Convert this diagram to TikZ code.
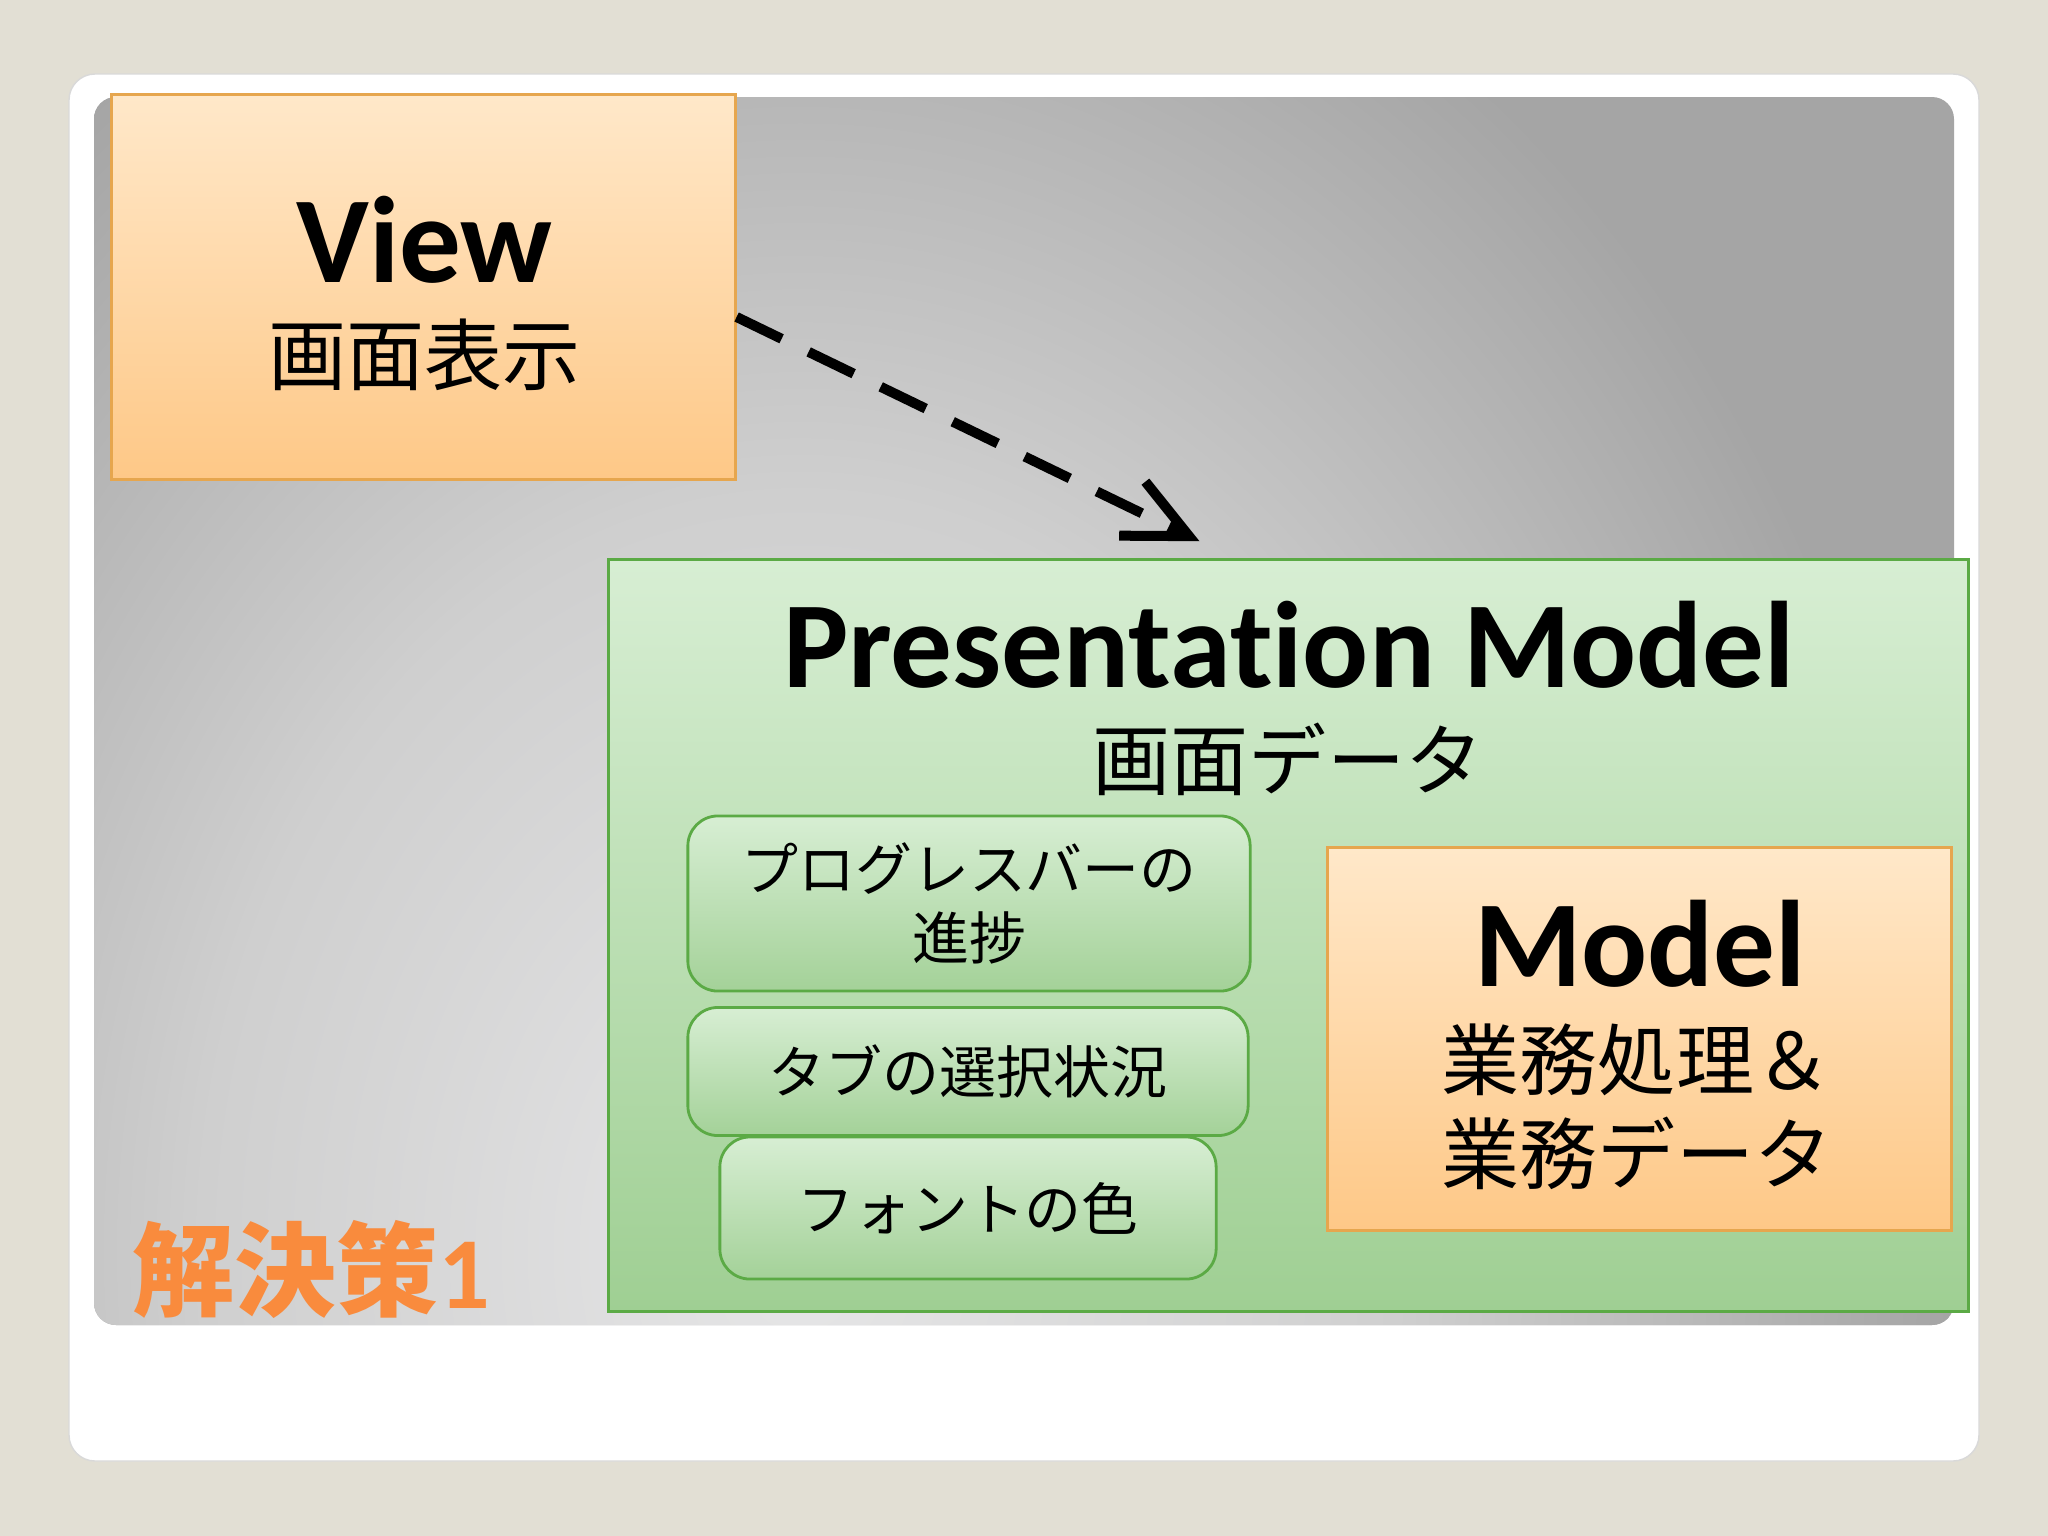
\documentclass[tikz,border=0pt]{standalone}
\usepackage{fontspec}
\setmainfont{Carlito}[Ligatures=NoCommon]
\newfontfamily\jpfont{Noto Sans CJK JP}
\usetikzlibrary{positioning,calc,arrows.meta}

\definecolor{slidebg}{HTML}{E2DFD4}
\definecolor{panelin}{HTML}{E6E6E7}
\definecolor{panelmid}{HTML}{CFCFCF}
\definecolor{panelout}{HTML}{A5A5A5}
\definecolor{orangetop}{HTML}{FFE8C9}
\definecolor{orangebot}{HTML}{FEC887}
\definecolor{orangeline}{HTML}{E6A64E}
\definecolor{greentop}{HTML}{D7EED3}
\definecolor{greenbot}{HTML}{9FCF93}
\definecolor{greenline}{HTML}{5BAA45}
\definecolor{labelorange}{HTML}{F98B3D}

\pgfdeclareradialshading{panelshade}{\pgfpoint{0bp}{0bp}}{color(0bp)=(panelin); color(13bp)=(panelmid); color(25bp)=(panelout); color(50bp)=(panelout)}

\tikzset{
  orangebox/.style={draw=orangeline, line width=0.8pt, top color=orangetop, bottom color=orangebot, rectangle, inner sep=0pt},
  pmbox/.style={draw=greenline, line width=0.9pt, top color=greentop, bottom color=greenbot, rectangle, inner sep=0pt},
  itembox/.style={draw=greenline, line width=0.8pt, top color=greentop, bottom color=greenbot!95!white, rectangle, rounded corners=0.3cm, align=center, inner sep=0pt, font=\jpfont\fontsize{16.2}{19.7}\selectfont},
  titletext/.style={font=\bfseries\fontsize{35}{42}\selectfont, inner sep=0pt},
  subtext/.style={font=\jpfont\fontsize{22.2}{26.7}\selectfont, inner sep=0pt, align=center},
  dasharrow/.style={line width=1mm, dash pattern=on 5mm off 3mm, -{Straight Barb[length=6.3mm, width=6mm]}}
}

\begin{document}
\begin{tikzpicture}[x=0.01cm, y=-0.01cm]
            \useasboundingbox (0,0) rectangle (2048,1536);
            \fill[slidebg] (0,0) rectangle (2048,1536);
            \draw[gray!30, fill=white, line width=0.4pt, rounded corners=0.26cm] (69,74) rectangle (1979,1461);
            \fill[panelout, rounded corners=0.22cm] (94,97) rectangle (1954,1325);
            \begin{scope}
                \clip[rounded corners=0.22cm] (94,97) rectangle (1954,1325);
                \shade[shading=panelshade] (800,1250) ellipse (1150 and 1450);
            \end{scope}

            \node[orangebox, minimum width = 6.23cm, minimum height = 3.84cm](view) at (423.5,287){};
            \node[titletext, anchor=base](viewtitle) at (424.5,282){View};
            \node[subtext, anchor=base](viewsub) at (424.5,384){画面表示};

            \node[pmbox, minimum width = 13.59cm, minimum height = 7.51cm](pm) at (1288.5,935.5){};
            \node[titletext, anchor=base](pmtitle) at (1289,687){Presentation Model};
            \node[subtext, anchor=base](pmsub) at (1288,789){画面データ};

            \node[itembox, minimum width = 5.62cm, minimum height = 1.75cm](progress) at (969,903.5){プログレスバーの\\進捗};
            \node[itembox, minimum width = 5.60cm, minimum height = 1.28cm](tabsel) at (968,1071.5){タブの選択状況};
            \node[itembox, minimum width = 4.96cm, minimum height = 1.42cm](fontcol) at (968,1208){フォントの色};

            \node[orangebox, minimum width = 6.24cm, minimum height = 3.82cm](model) at (1639.5,1039){};
            \node[titletext, anchor=base](modeltitle) at (1640,986){Model};
            \node[subtext](modelsub) at (1637,1107){業務処理＆\\業務データ};

            \node[anchor=base west, text=labelorange, inner sep=0pt, font=\fontsize{29}{33}\selectfont](solution) at (132,1308){{\jpfont\bfseries 解決策}\textbf{1}};

            \draw[dasharrow]($(view.east)+(0,30)$)--($(pm.north)+(-89,-17)$);
\end{tikzpicture}
\end{document}
